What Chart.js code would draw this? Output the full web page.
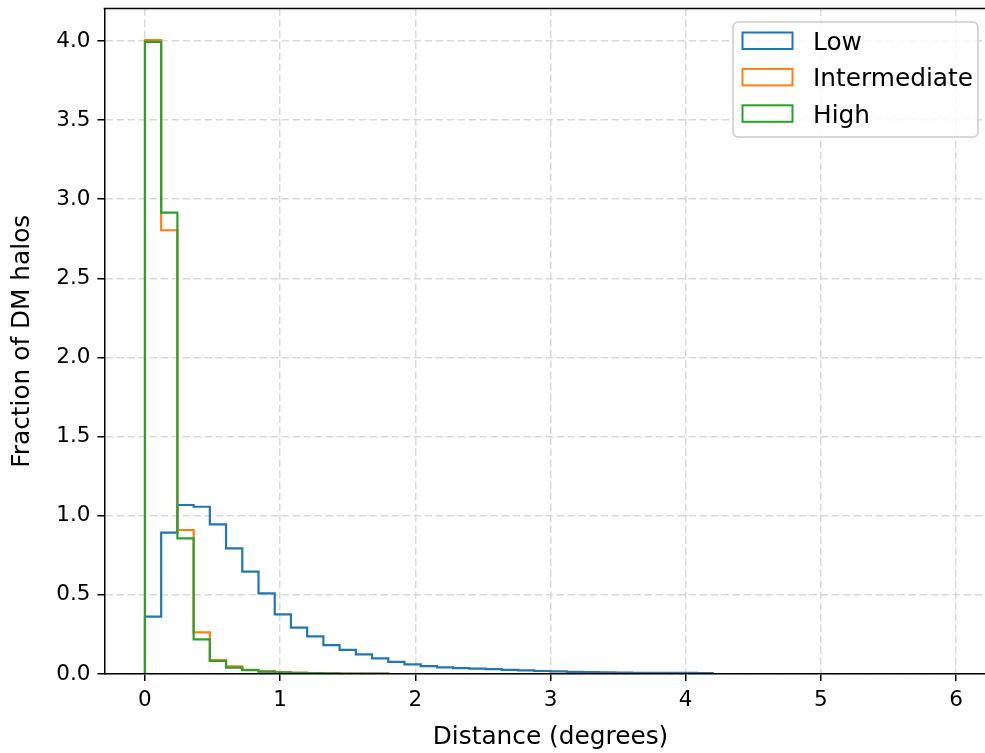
<!DOCTYPE html>
<html>
<head>
<meta charset="utf-8">
<script src="https://cdn.jsdelivr.net/npm/chart.js@4/dist/chart.umd.min.js"></script>
<style>
  html, body { margin: 0; padding: 0; background: #ffffff; overflow: hidden; }
  #wrap { width: 1000px; height: 753px; }
</style>
</head>
<body>
<div id="wrap"><canvas id="chart" width="1000" height="753"></canvas></div>
<script>
// Histogram bins: 50 equal bins from 0 to 6 degrees
const binStart = 0;
const binWidth = 0.12;

const seriesNames = ['Low', 'Intermediate', 'High'];
const seriesColors = ['#1f77b4', '#ff7f0e', '#2ca02c'];

// Normalised counts per bin (density)
const lowDensity = [
  0.362, 0.893, 1.068, 1.057, 0.946, 0.794, 0.647, 0.510, 0.377, 0.293,
  0.238, 0.183, 0.152, 0.124, 0.099, 0.076, 0.061, 0.050, 0.042, 0.037,
  0.034, 0.031, 0.026, 0.023, 0.019, 0.016, 0.013, 0.012, 0.010, 0.009,
  0.008, 0.008, 0.007, 0.007, 0.006, 0, 0, 0, 0, 0,
  0, 0, 0, 0, 0, 0, 0, 0, 0, 0
];
const intermediateDensity = [
  4.006, 2.804, 0.910, 0.263, 0.088, 0.049, 0.027, 0.016, 0.010, 0.007,
  0.005, 0.004, 0.003, 0.002, 0.002, 0, 0, 0, 0, 0,
  0, 0, 0, 0, 0, 0, 0, 0, 0, 0,
  0, 0, 0, 0, 0, 0, 0, 0, 0, 0,
  0, 0, 0, 0, 0, 0, 0, 0, 0, 0
];
const highDensity = [
  3.994, 2.915, 0.857, 0.219, 0.082, 0.040, 0.024, 0.015, 0.010, 0.007,
  0.005, 0.004, 0.003, 0.002, 0.002, 0, 0, 0, 0, 0,
  0, 0, 0, 0, 0, 0, 0, 0, 0, 0,
  0, 0, 0, 0, 0, 0, 0, 0, 0, 0,
  0, 0, 0, 0, 0, 0, 0, 0, 0, 0
];

const xTickValues = [0, 1, 2, 3, 4, 5, 6];
const yTickValues = [0, 0.5, 1.0, 1.5, 2.0, 2.5, 3.0, 3.5, 4.0];

const FONT = 'DejaVu Sans';
const TICK_SIZE = 21.5;
const LABEL_SIZE = 24.8;

// Outline of a step histogram: up from the baseline, across each bin, back down at the end
function stepOutline(values) {
  const pts = [{ x: binStart, y: 0 }];
  values.forEach((v, k) => {
    pts.push({ x: binStart + k * binWidth, y: v });
    pts.push({ x: binStart + (k + 1) * binWidth, y: v });
  });
  pts.push({ x: binStart + values.length * binWidth, y: 0 });
  return pts;
}

const seriesValues = [lowDensity, intermediateDensity, highDensity];
const datasets = seriesValues.map((vals, i) => ({
  label: seriesNames[i],
  data: stepOutline(vals),
  borderColor: seriesColors[i],
  backgroundColor: seriesColors[i],
  borderWidth: 2.2,
  pointRadius: 0,
  tension: 0,
  fill: false,
  borderJoinStyle: 'miter',
  borderCapStyle: 'butt',
  order: seriesValues.length - i
}));

// Top frame line of the plot area
const topFrame = {
  id: 'topFrame',
  afterDraw(chart) {
    const { ctx, chartArea } = chart;
    ctx.save();
    ctx.strokeStyle = '#000000';
    ctx.lineWidth = 1.5;
    ctx.beginPath();
    ctx.moveTo(chartArea.left - 0.75, chartArea.top);
    ctx.lineTo(chartArea.right, chartArea.top);
    ctx.stroke();
    ctx.restore();
  }
};

// Framed legend in the upper-right corner of the plot area
const cornerLegend = {
  id: 'cornerLegend',
  afterDraw(chart) {
    const { ctx, chartArea } = chart;
    const w = 245, h = 115, r = 5;
    const x0 = chartArea.right - 18.6 - w;
    const y0 = chartArea.top + 13.6;
    ctx.save();
    ctx.beginPath();
    ctx.moveTo(x0 + r, y0);
    ctx.arcTo(x0 + w, y0, x0 + w, y0 + h, r);
    ctx.arcTo(x0 + w, y0 + h, x0, y0 + h, r);
    ctx.arcTo(x0, y0 + h, x0, y0, r);
    ctx.arcTo(x0, y0, x0 + w, y0, r);
    ctx.closePath();
    ctx.fillStyle = 'rgba(255,255,255,0.8)';
    ctx.fill();
    ctx.strokeStyle = '#cccccc';
    ctx.lineWidth = 1.5;
    ctx.stroke();

    ctx.font = LABEL_SIZE + 'px "' + FONT + '"';
    ctx.textBaseline = 'alphabetic';
    ctx.textAlign = 'left';
    chart.data.datasets.forEach((ds, i) => {
      const base = y0 + 28 + i * 36.4;
      ctx.strokeStyle = ds.borderColor;
      ctx.lineWidth = 2;
      ctx.strokeRect(x0 + 9.5, base - 17.5, 50, 16.5);
      ctx.fillStyle = '#000000';
      ctx.fillText(ds.label, x0 + 80, base);
    });
    ctx.restore();
  }
};

new Chart(document.getElementById('chart'), {
  type: 'line',
  data: { datasets },
  plugins: [topFrame, cornerLegend],
  options: {
    responsive: false,
    animation: false,
    devicePixelRatio: 1,
    events: [],
    layout: { padding: { left: 0, right: 3.4, top: 8.4, bottom: 0 } },
    plugins: {
      legend: { display: false },
      tooltip: { enabled: false }
    },
    scales: {
      x: {
        type: 'linear',
        position: 'bottom',
        min: -0.3,
        max: 6.3,
        afterFit(scale) {
          scale.height = 79;
          scale.paddingLeft = 0;
          scale.paddingRight = 0;
        },
        afterBuildTicks(scale) { scale.ticks = xTickValues.map(v => ({ value: v })); },
        ticks: {
          callback: v => String(v),
          font: { family: FONT, size: TICK_SIZE },
          color: '#000000',
          padding: 7,
          maxRotation: 0,
          autoSkip: false
        },
        grid: {
          color: '#d9d9d9',
          lineWidth: 1.5,
          tickLength: 7,
          tickColor: '#000000',
          tickWidth: 1.5
        },
        border: { display: true, color: '#000000', width: 1.5, dash: [7.5, 3.5], z: 1 },
        title: {
          display: true,
          text: 'Distance (degrees)',
          font: { family: FONT, size: LABEL_SIZE },
          color: '#000000',
          padding: { top: 0, bottom: 0.6 }
        }
      },
      y: {
        type: 'linear',
        position: 'left',
        min: 0,
        max: 4.206,
        afterFit(scale) {
          scale.width = 104.4;
          scale.paddingTop = 0;
          scale.paddingBottom = 0;
        },
        afterBuildTicks(scale) { scale.ticks = yTickValues.map(v => ({ value: v })); },
        ticks: {
          callback: v => Number(v).toFixed(1),
          font: { family: FONT, size: TICK_SIZE },
          color: '#000000',
          padding: 7,
          autoSkip: false
        },
        grid: {
          color: '#d9d9d9',
          lineWidth: 1.5,
          tickLength: 7,
          tickColor: '#000000',
          tickWidth: 1.5
        },
        border: { display: true, color: '#000000', width: 1.5, dash: [7.5, 3.5], z: 1 },
        title: {
          display: true,
          text: 'Fraction of DM halos',
          font: { family: FONT, size: LABEL_SIZE },
          color: '#000000',
          padding: { top: 8, bottom: 0 }
        }
      }
    }
  }
});
</script>
</body>
</html>
